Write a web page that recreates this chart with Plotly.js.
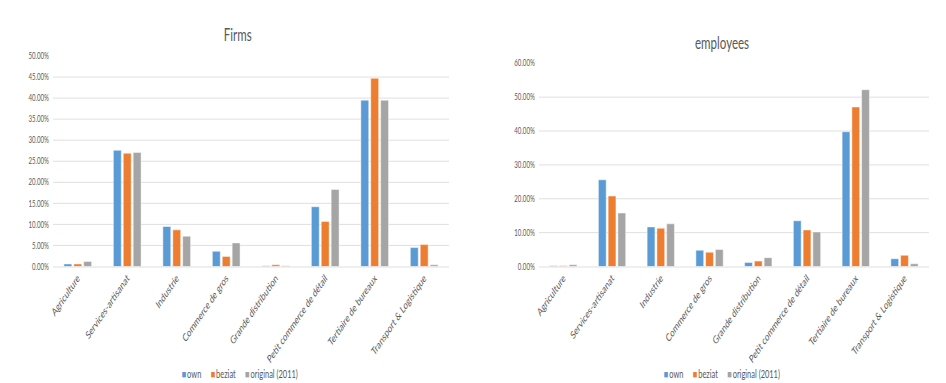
<!DOCTYPE html>
<html><head><meta charset="utf-8">
<script src="https://cdn.plot.ly/plotly-3.0.1.min.js"></script>
<style>
html,body{margin:0;padding:0;background:#fff;overflow:hidden;width:946px;height:383px}
#c{width:1391px;height:383px;transform:scaleX(0.68);transform-origin:0 0}
</style>
</head><body><div id="c"></div>
<script>
const categories = ["Agriculture","Services-artisanat","Industrie","Commerce de gros","Grande distribution","Petit commerce de détail","Tertiaire de bureaux","Transport & Logistique"];
const seriesNames = ["own","beziat","original (2011)"];
const firmsOwn = [0.6, 27.6, 9.5, 3.6, 0.2, 14.2, 39.5, 4.5];
const firmsBeziat = [0.6, 26.9, 8.7, 2.4, 0.4, 10.7, 44.7, 5.2];
const firmsOriginal = [1.2, 27.1, 7.2, 5.6, 0.2, 18.3, 39.5, 0.4];
const empOwn = [0.2, 25.6, 11.7, 4.8, 1.2, 13.5, 39.8, 2.3];
const empBeziat = [0.2, 20.8, 11.3, 4.2, 1.6, 10.8, 47.1, 3.3];
const empOriginal = [0.5, 15.8, 12.6, 5.0, 2.6, 10.2, 52.2, 0.8];
const firmsTicks = [0,5,10,15,20,25,30,35,40,45,50];
const empTicks = [0,10,20,30,40,50,60];

const colors = ["#5B9BD5","#ED7D31","#A5A5A5"];
const font = "Lato, 'Liberation Sans', sans-serif";
const txt = "#595959";
const S = 0.68, W = 946 / S;

const firmsData = [firmsOwn, firmsBeziat, firmsOriginal];
const empData = [empOwn, empBeziat, empOriginal];
const traces = [];
firmsData.forEach((v,i)=>traces.push({type:'bar', x:categories, y:v, name:seriesNames[i], xaxis:'x', yaxis:'y', showlegend:false,
  marker:{color:colors[i], line:{color:'rgba(255,255,255,0.7)', width:0.8}}, hoverinfo:'y'}));
empData.forEach((v,i)=>traces.push({type:'bar', x:categories, y:v, name:seriesNames[i], xaxis:'x2', yaxis:'y2', showlegend:false,
  marker:{color:colors[i], line:{color:'rgba(255,255,255,0.7)', width:0.8}}, hoverinfo:'y'}));

const fmt = v => v.toFixed(2) + '%';
const legendText = seriesNames.map((n,i)=>`<span style="color:${colors[i]}">■</span>\u2009${n}`).join('\u2003\u2002');

const yb = 1-266.5/383;
const xaxisBase = {type:'category', tickangle:-45, tickfont:{family:font, size:11, color:txt}, showgrid:false, showline:true, linecolor:'#d9d9d9', linewidth:1, ticks:'', automargin:false, zeroline:false, fixedrange:true};
const yaxisBase = {tickfont:{family:font, size:9, color:txt}, showgrid:true, gridcolor:'#d9d9d9', gridwidth:1, zeroline:false, tickmode:'array', automargin:false, showline:false, ticks:'', ticklabelstandoff:5, fixedrange:true};

const layout = {
  width:W, height:383,
  margin:{l:0, r:0, t:0, b:0},
  paper_bgcolor:'#fff', plot_bgcolor:'#fff',
  barmode:'group', bargap:0.4, bargroupgap:0.2,
  showlegend:false,
  font:{family:font, color:txt},
  xaxis: Object.assign({}, xaxisBase, {domain:[53/946, 449/946], anchor:'y'}),
  yaxis: Object.assign({}, yaxisBase, {domain:[yb, 1-56/383], range:[0,50], tickvals:firmsTicks, ticktext:firmsTicks.map(fmt), anchor:'x'}),
  xaxis2: Object.assign({}, xaxisBase, {domain:[539/946, 929/946], anchor:'y2'}),
  yaxis2: Object.assign({}, yaxisBase, {domain:[yb, 1-63.3/383], range:[0,60], tickvals:empTicks, ticktext:empTicks.map(fmt), anchor:'x2'}),
  annotations:[
    {text:'Firms', xref:'paper', yref:'paper', x:238/946, y:1-34/383, xanchor:'center', yanchor:'middle', showarrow:false, font:{family:font, size:17, color:txt}},
    {text:'employees', xref:'paper', yref:'paper', x:722/946, y:1-42/383, xanchor:'center', yanchor:'middle', showarrow:false, font:{family:font, size:17, color:txt}},
    {text:legendText, xref:'paper', yref:'paper', x:240/946, y:1-373/383, xanchor:'center', yanchor:'middle', showarrow:false, font:{family:font, size:11, color:txt}},
    {text:legendText, xref:'paper', yref:'paper', x:722/946, y:1-373/383, xanchor:'center', yanchor:'middle', showarrow:false, font:{family:font, size:11, color:txt}}
  ]
};
Plotly.newPlot('c', traces, layout, {displayModeBar:false, staticPlot:true});
</script></body></html>
